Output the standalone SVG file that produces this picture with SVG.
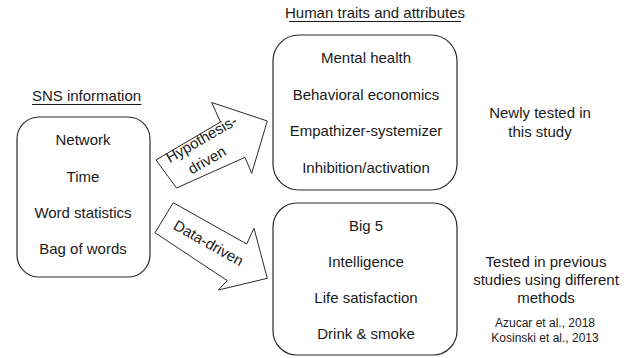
<svg xmlns="http://www.w3.org/2000/svg" width="628" height="358" viewBox="0 0 628 358">
  <style>
    text { font-family: "Liberation Sans", Arial, sans-serif; font-size: 15px; fill: #1a1a1a; text-anchor: middle; }
    .small { font-size: 12px; }
    .box { fill: #ffffff; stroke: #2a2a2a; stroke-width: 1.2; }
    .arrow { fill: #ffffff; stroke: #2a2a2a; stroke-width: 1; stroke-linejoin: miter; }
    .rule { stroke: #1a1a1a; stroke-width: 1; }
  </style>
  <rect width="628" height="358" fill="#ffffff"/>

  <!-- headings -->
  <g id="heading-sns">
    <text x="86.5" y="101">SNS information</text>
    <line class="rule" x1="32" y1="104.5" x2="141.5" y2="104.5"/>
  </g>
  <g id="heading-traits">
    <text x="375" y="18">Human traits and attributes</text>
    <line class="rule" x1="289" y1="21.5" x2="461" y2="21.5"/>
  </g>

  <!-- source features -->
  <g id="sns-info">
    <rect class="box" x="17" y="117" width="133" height="160" rx="22" ry="22"/>
    <text x="83" y="145">Network</text>
    <text x="83" y="182">Time</text>
    <text x="83" y="218">Word statistics</text>
    <text x="83" y="254">Bag of words</text>
  </g>

  <!-- new targets -->
  <g id="new-traits">
    <rect class="box" x="273" y="35" width="184" height="155" rx="26" ry="26"/>
    <text x="366" y="63">Mental health</text>
    <text x="366" y="100">Behavioral economics</text>
    <text x="366" y="136">Empathizer-systemizer</text>
    <text x="366" y="173">Inhibition/activation</text>
  </g>

  <!-- previously studied targets -->
  <g id="known-traits">
    <rect class="box" x="273" y="203" width="184" height="152" rx="24" ry="24"/>
    <text x="366" y="231">Big 5</text>
    <text x="366" y="267">Intelligence</text>
    <text x="366" y="303">Life satisfaction</text>
    <text x="366" y="339">Drink &amp; smoke</text>
  </g>

  <!-- side notes -->
  <g id="note-new">
    <text x="540" y="118">Newly tested in</text>
    <text x="540" y="137">this study</text>
  </g>
  <g id="note-previous">
    <text x="546" y="267">Tested in previous</text>
    <text x="546" y="285">studies using different</text>
    <text x="546" y="303">methods</text>
    <text class="small" x="545" y="327">Azucar et al., 2018</text>
    <text class="small" x="545" y="342">Kosinski et al., 2013</text>
  </g>

  <!-- block arrows -->
  <g id="connectors">
    <g id="arrow-hypothesis">
      <polygon class="arrow" points="156,160 220.5,122 211.7,102.5 267.3,121 251.7,173.3 245,157.3 176.5,188"/>
      <text transform="translate(204,143.5) rotate(-30)">Hypothesis-</text>
      <text transform="translate(209.5,164.5) rotate(-30)">driven</text>
    </g>
    <g id="arrow-data">
      <polygon class="arrow" points="173.3,202.7 246.7,244 254,228.3 267.3,278.3 218.3,290 227.3,280.7 155,232.7"/>
      <text transform="translate(206,247.5) rotate(29.5)">Data-driven</text>
    </g>
  </g>
</svg>
